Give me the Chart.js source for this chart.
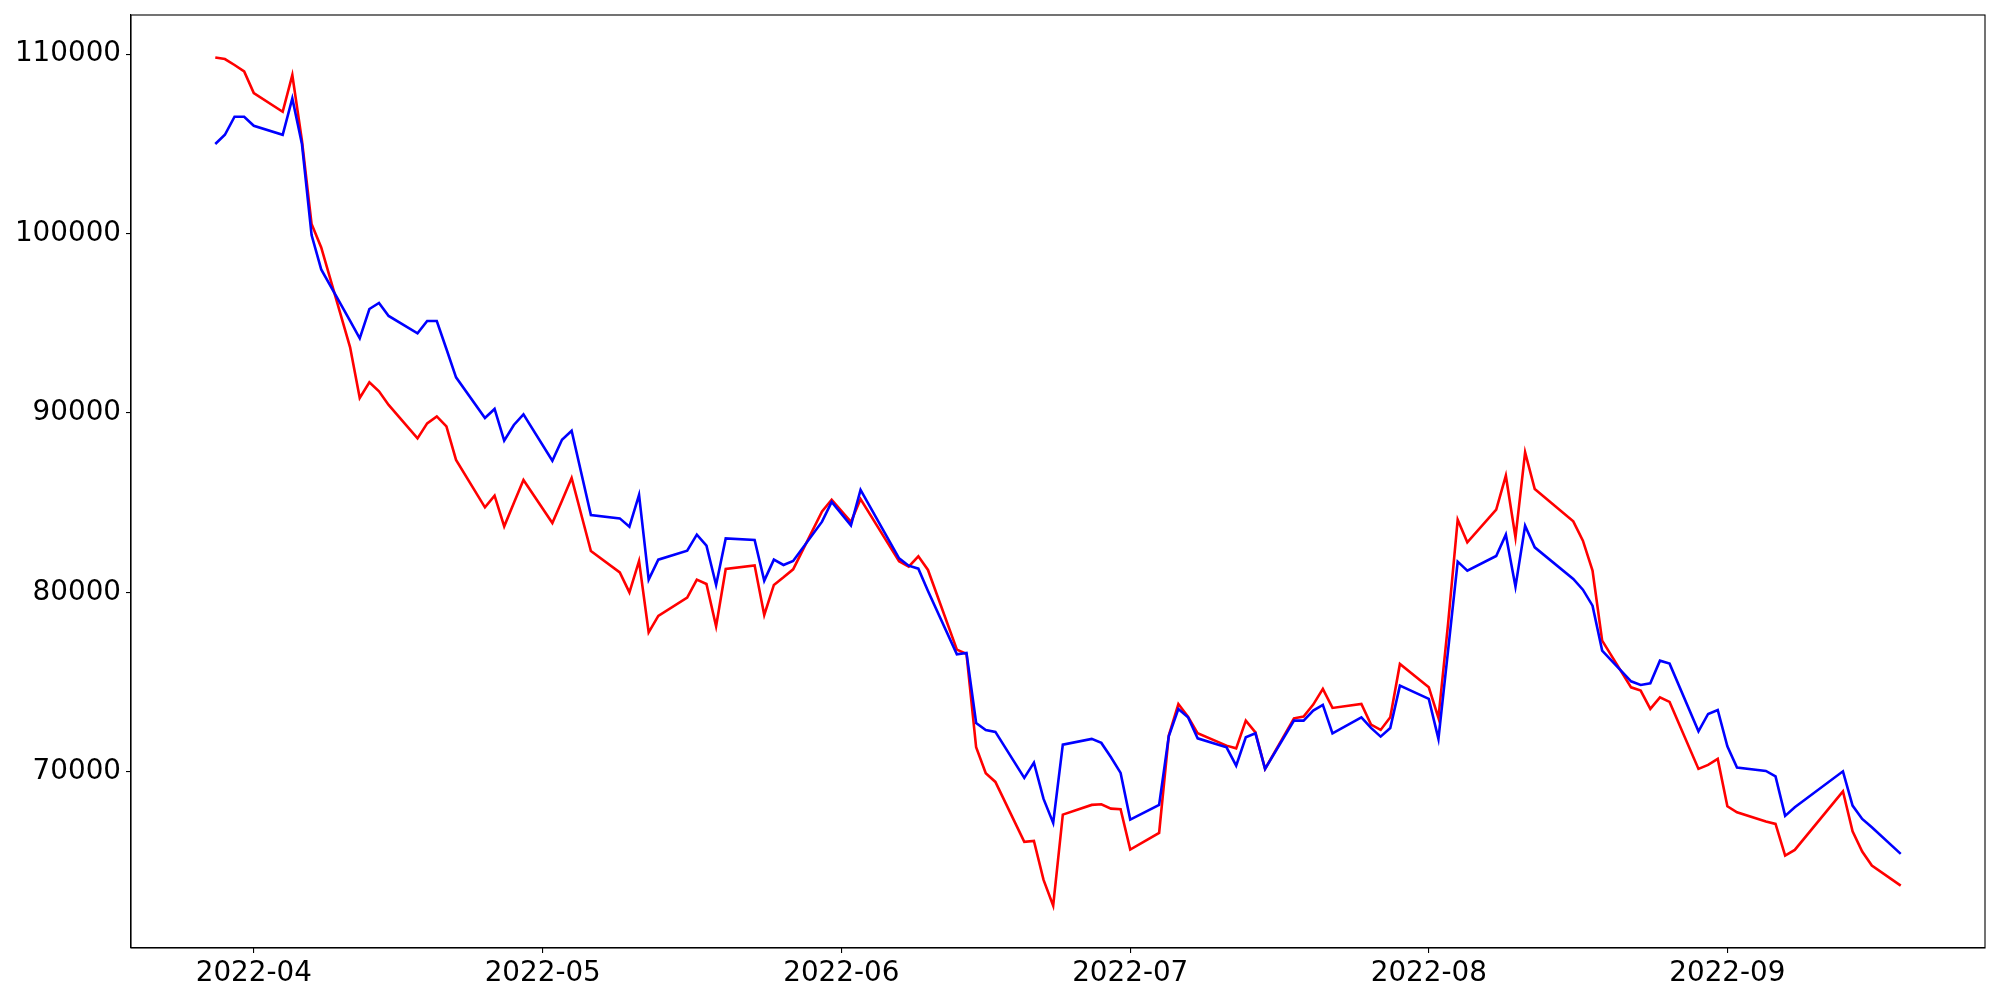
<!DOCTYPE html>
<html><head><meta charset="utf-8">
<script src="https://cdn.jsdelivr.net/npm/chart.js@4.4.0/dist/chart.umd.min.js"></script>
<style>html,body{margin:0;padding:0;background:#fff}#wrap{width:2000px;height:1000px}</style>
</head><body><div id="wrap"><canvas id="c" width="2000" height="1000"></canvas></div>
<script>
const dates = [
'2022-03-28','2022-03-29','2022-03-30','2022-03-31','2022-04-01',
'2022-04-04','2022-04-05','2022-04-06','2022-04-07','2022-04-08',
'2022-04-11','2022-04-12','2022-04-13','2022-04-14','2022-04-15',
'2022-04-18','2022-04-19','2022-04-20','2022-04-21','2022-04-22',
'2022-04-25','2022-04-26','2022-04-27','2022-04-28','2022-04-29',
'2022-05-02','2022-05-03','2022-05-04','2022-05-06',
'2022-05-09','2022-05-10','2022-05-11','2022-05-12','2022-05-13',
'2022-05-16','2022-05-17','2022-05-18','2022-05-19','2022-05-20',
'2022-05-23','2022-05-24','2022-05-25','2022-05-26','2022-05-27',
'2022-05-30','2022-05-31','2022-06-02','2022-06-03',
'2022-06-07','2022-06-08','2022-06-09','2022-06-10',
'2022-06-13','2022-06-14','2022-06-15','2022-06-16','2022-06-17',
'2022-06-20','2022-06-21','2022-06-22','2022-06-23','2022-06-24',
'2022-06-27','2022-06-28','2022-06-29','2022-06-30','2022-07-01',
'2022-07-04','2022-07-05','2022-07-06','2022-07-07','2022-07-08',
'2022-07-11','2022-07-12','2022-07-13','2022-07-14','2022-07-15',
'2022-07-18','2022-07-19','2022-07-20','2022-07-21','2022-07-22',
'2022-07-25','2022-07-26','2022-07-27','2022-07-28','2022-07-29',
'2022-08-01','2022-08-02','2022-08-03','2022-08-04','2022-08-05',
'2022-08-08','2022-08-09','2022-08-10','2022-08-11','2022-08-12',
'2022-08-16','2022-08-17','2022-08-18','2022-08-19',
'2022-08-22','2022-08-23','2022-08-24','2022-08-25','2022-08-26',
'2022-08-29','2022-08-30','2022-08-31','2022-09-01','2022-09-02',
'2022-09-05','2022-09-06','2022-09-07','2022-09-08',
'2022-09-13','2022-09-14','2022-09-15','2022-09-16','2022-09-19'];

const redValues = [
109813,109720,109390,109030,107826,
106786,108828,105170,100529,99227,
93657,90836,91707,91205,90447,
88587,89424,89813,89255,87384,
84742,85393,83683,84986,86267,
83872,85114,86379,82312,
81120,80006,81755,77777,78691,
79710,80713,80474,78113,81309,
81510,78747,80418,80842,81287,
84519,85170,83928,85209,
81733,81438,82012,81254,
76814,76574,71371,69922,69443,
66101,66156,63984,62552,67622,
68162,68195,67956,67917,65672,
66602,72023,73788,73081,72151,
71465,71315,72858,72206,70167,
72986,73081,73750,74624,73566,
73788,72636,72340,73042,76017,
74713,73009,78245,84056,82791,
84613,86507,83070,87805,85766,
83961,82886,81215,77315,
74713,74529,73510,74156,73900,
70167,70390,70724,68084,67750,
67232,67103,65337,65655,
68920,66691,65560,64780,63666];

const blueValues = [
104986,105504,106507,106507,106006,
105504,107527,104986,99916,98000,
95127,94157,95794,96129,95405,
94437,95127,95127,93567,91987,
89721,90223,88457,89332,89922,
87343,88512,89014,84318,
84128,83666,85432,80713,81828,
82329,83220,82608,80418,83014,
82925,80657,81828,81532,81755,
83945,85042,83738,85710,
81900,81493,81326,80084,
76552,76630,72730,72340,72229,
69666,70519,68496,67159,71521,
71839,71616,70814,69945,67343,
68162,71984,73510,73042,71872,
71371,70351,71928,72151,70167,
72858,72858,73416,73733,72151,
73042,72451,71967,72451,74808,
74067,71839,76758,81716,81215,
82034,83220,80323,83721,82513,
80752,80156,79265,76758,
75048,74847,74936,76201,76034,
72262,73231,73454,71426,70240,
70056,69755,67549,68028,
70034,68123,67382,66914,65432];

const monthTicks = ['2022-04-01','2022-05-01','2022-06-01','2022-07-01','2022-08-01','2022-09-01'];
const yTicks = [70000, 80000, 90000, 100000, 110000];

const DAY = 86400000;
const toDay = s => Date.UTC(+s.slice(0,4), +s.slice(5,7)-1, +s.slice(8,10)) / DAY;
const xs = dates.map(toDay);
const xSpan = xs[xs.length-1] - xs[0];
const xMin = xs[0] - 0.05*xSpan, xMax = xs[xs.length-1] + 0.05*xSpan;
const allY = redValues.concat(blueValues);
const yLo = Math.min(...allY), yHi = Math.max(...allY);
const yMin = yLo - 0.05*(yHi-yLo), yMax = yHi + 0.05*(yHi-yLo);

const FONT = {family: 'DejaVu Sans', size: 27.8};

const framePlugin = {
  id: 'frame',
  afterDraw(chart) {
    const {ctx, chartArea: a} = chart;
    ctx.save();
    ctx.strokeStyle = '#000';
    ctx.lineWidth = 1.1;
    ctx.strokeRect(a.left, a.top, a.right - a.left, a.bottom - a.top);
    ctx.restore();
  }
};

new Chart(document.getElementById('c'), {
  type: 'line',
  data: {
    datasets: [
      {label: 'blue', data: xs.map((x,i)=>({x, y: blueValues[i]})), borderColor: 'blue', borderWidth: 2.6, pointRadius: 0, tension: 0, fill: false},
      {label: 'red', data: xs.map((x,i)=>({x, y: redValues[i]})), borderColor: 'red', borderWidth: 2.6, pointRadius: 0, tension: 0, fill: false}
    ]
  },
  options: {
    responsive: false,
    devicePixelRatio: 1,
    animation: false,
    layout: {padding: {left: 0, top: 15, right: 15, bottom: 0}},
    plugins: {legend: {display: false}, tooltip: {enabled: false}},
    scales: {
      x: {
        type: 'linear', min: xMin, max: xMax,
        afterBuildTicks: s => { s.ticks = monthTicks.map(m => ({value: toDay(m)})); },
        afterFit: s => { s.height = 52; s.paddingLeft = 0; s.paddingRight = 0; },
        ticks: {
          callback: v => new Date(v*DAY).toISOString().slice(0,7),
          font: FONT, color: '#000', padding: 4, maxRotation: 0, autoSkip: false
        },
        grid: {drawOnChartArea: false, drawTicks: true, tickLength: 5, color: '#000', lineWidth: 1.1},
        border: {display: true, color: '#000', width: 1.1}
      },
      y: {
        type: 'linear', min: yMin, max: yMax,
        afterBuildTicks: s => { s.ticks = yTicks.map(v => ({value: v})); },
        afterFit: s => { s.width = 131; s.paddingTop = 0; s.paddingBottom = 0; },
        ticks: {
          callback: v => String(v),
          font: FONT, color: '#000', padding: 5
        },
        grid: {drawOnChartArea: false, drawTicks: true, tickLength: 5, color: '#000', lineWidth: 1.1},
        border: {display: true, color: '#000', width: 1.1}
      }
    }
  },
  plugins: [framePlugin]
});
</script>
</body></html>
